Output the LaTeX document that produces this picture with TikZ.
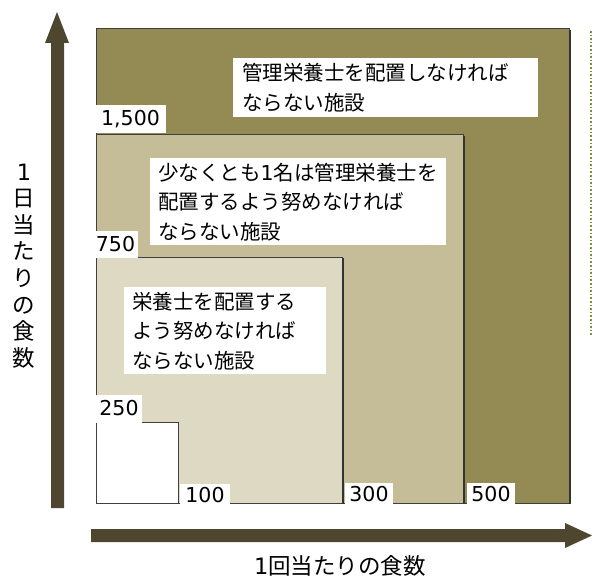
\documentclass[tikz,border=0pt]{standalone}
\usepackage{fontspec}
\newfontfamily\jp{Noto Sans CJK JP}
\newfontfamily\num{DejaVu Sans}
\definecolor{tanD}{HTML}{948A54}
\definecolor{tanM}{HTML}{C4BD97}
\definecolor{tanL}{HTML}{DDD9C3}
\definecolor{arrowc}{RGB}{79,70,48}
\definecolor{dotg}{HTML}{77933C}
\tikzset{
  area/.style={draw=black!75, line width=1pt},
  shade line/.style={draw=black!80, line width=1.4pt},
  numlab/.style={fill=white, inner sep=0pt, font=\num\fontsize{20.5}{24}\selectfont},
  jbox/.style={fill=white, anchor=north west, align=left, inner ysep=0pt,
    font=\jp\fontsize{20.5}{29.5}\selectfont},
  axislab/.style={font=\jp\fontsize{22.5}{26.6}\selectfont, inner sep=0pt}
}
\begin{document}
\begin{tikzpicture}[x=1pt,y=-1pt]
\useasboundingbox (0,0) rectangle (593,580);
% areas
\draw[area, fill=tanD] (96,29) rectangle (569,503);
\draw[shade line] (570,30) -- (570,504);
\draw[area, fill=tanM] (96,135) rectangle (463,503);
\draw[shade line] (464,136) -- (464,504);
\draw[area, fill=tanL] (96,257) rectangle (342,503);
\draw[shade line] (343,258) -- (343,504);
\draw[area, fill=white] (96,422) rectangle (178,503);
% dotted line
\draw[dotg, dotted, line width=1.6pt] (591,31) -- (591,335);
% text boxes
\node[jbox, minimum width=305pt, minimum height=59pt, text width=287pt, inner xsep=9pt] (t1) at (233,58)
  {管理栄養士を配置しなければ\\ならない施設};
\node[jbox, minimum width=296pt, minimum height=87pt, text width=280pt, inner xsep=8pt] (t2) at (150,158)
  {少なくとも{\num 1}名は管理栄養士を\\配置するよう努めなければ\\ならない施設};
\node[jbox, minimum width=202pt, minimum height=87pt, text width=186pt, inner xsep=8pt] (t3) at (124,287)
  {栄養士を配置する\\よう努めなければ\\ならない施設};
% number labels
\node[numlab, minimum width=71pt, minimum height=28pt] (n1500) at (130.5,119.5) {1,500};
\node[numlab, minimum width=45pt, minimum height=27pt] (n750) at (115.5,244) {750};
\node[numlab, minimum width=46pt, minimum height=28pt] (n250) at (119,408.5) {250};
\node[numlab, minimum width=50pt, minimum height=23pt] (n100) at (205,495) {100};
\node[numlab, minimum width=48pt, minimum height=23pt] (n300) at (369,494) {300};
\node[numlab, minimum width=48pt, minimum height=23pt] (n500) at (491,494) {500};
% axes arrows
\fill[arrowc] (51,508) -- (51,43) -- (45,43) -- (57,12) -- (69,43) -- (64,43) -- (64,508) -- cycle;
\fill[arrowc] (91,529) -- (565,529) -- (565,523) -- (592,535.5) -- (565,548) -- (565,542) -- (91,542) -- cycle;
% axis labels
\node[axislab, align=center] (ylab) at (24,266) {{\num 1}\\日\\当\\た\\り\\の\\食\\数};
\node[axislab] (xlab) at (340,566) {{\num 1}回当たりの食数};
\end{tikzpicture}
\end{document}
